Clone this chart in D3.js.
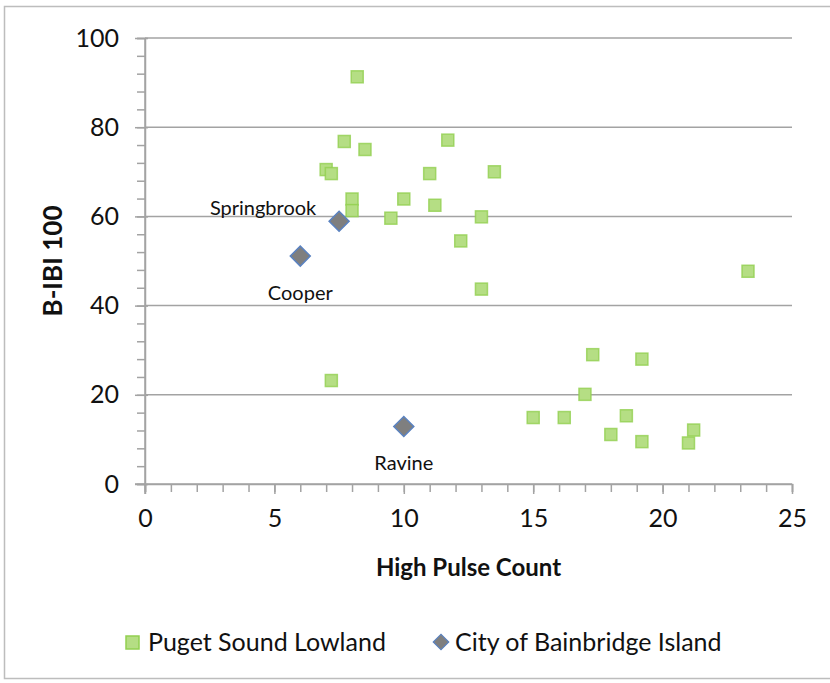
<!DOCTYPE html>
<html lang="en">
<head>
    <meta charset="UTF-8">
    <title>B-IBI vs High Pulse Count</title>
    <script src="https://d3js.org/d3.v7.min.js"></script>
    <style>
        body {
            margin: 0;
            background: #fff;
            font-family: Lato, 'Open Sans', sans-serif;
        }
        .tick-label { font-size: 25px; fill: #111; }
        .axis-title { font-size: 24px; font-weight: bold; fill: #111; }
        .y-title { font-size: 26px; }
        .site-label { font-size: 20px; fill: #111; }
        .legend-label { font-size: 25px; fill: #111; }
    </style>
</head>
<body>
    <div id="chart"></div>
    <script>
        // Puget Sound Lowland sites (high pulse count, B-IBI)
        const pugetX = [8.2, 7.7, 8.5, 11.7, 7.0, 7.2, 11.0, 13.5, 8.0, 8.0, 10.0, 11.2, 9.5, 13.0,
                        12.2, 13.0, 7.2, 23.3, 17.3, 19.2, 17.0, 15.0, 16.2, 18.6, 18.0, 19.2, 21.2, 21.0];
        const pugetY = [91.3, 76.8, 75.0, 77.1, 70.5, 69.6, 69.6, 70.0, 63.9, 61.3, 63.9, 62.5, 59.6, 59.9,
                        54.5, 43.7, 23.2, 47.7, 29.0, 28.0, 20.1, 14.9, 14.9, 15.3, 11.1, 9.5, 12.1, 9.2];

        // City of Bainbridge Island sites
        const cityNames = ["Springbrook", "Cooper", "Ravine"];
        const cityX = [7.5, 6.0, 10.0];
        const cityY = [58.9, 51.1, 12.9];

        const xTicks = [0, 5, 10, 15, 20, 25];
        const yTicks = [0, 20, 40, 60, 80, 100];
        const seriesNames = ["Puget Sound Lowland", "City of Bainbridge Island"];

        const W = 830, H = 683;
        const plot = { left: 145, right: 792, top: 38, bottom: 484 };

        const svg = d3.select("#chart").append("svg")
            .attr("width", W)
            .attr("height", H);

        // outer frame
        svg.append("rect")
            .attr("x", 4.5).attr("y", 6.5)
            .attr("width", 840).attr("height", 672)
            .attr("fill", "none")
            .attr("stroke", "#bdbdbd")
            .attr("stroke-width", 1.5);

        const x = d3.scaleLinear().domain([0, 25]).range([plot.left, plot.right]);
        const y = d3.scaleLinear().domain([0, 100]).range([plot.bottom, plot.top]);

        const axisColor = "#a3a3a3";

        // horizontal gridlines
        svg.append("g").selectAll("line")
            .data(yTicks.filter(d => d > 0))
            .join("line")
            .attr("x1", plot.left).attr("x2", plot.right)
            .attr("y1", d => y(d)).attr("y2", d => y(d))
            .attr("stroke", axisColor)
            .attr("stroke-width", 1.5);

        // y axis with minor ticks every 4
        const yAxisMinor = d3.axisLeft(y).tickValues(d3.range(0, 101, 4)).tickSize(8).tickFormat("");
        const gyMinor = svg.append("g").attr("transform", `translate(${plot.left},0)`).call(yAxisMinor);
        const yAxisMajor = d3.axisLeft(y).tickValues(yTicks).tickSize(10).tickPadding(16);
        const gy = svg.append("g").attr("transform", `translate(${plot.left},0)`).call(yAxisMajor);
        gy.selectAll(".tick line").attr("x2", -10).attr("x1", 3);
        gy.select(".domain").attr("d", `M0,${plot.top}V${plot.bottom + 10}`);

        // x axis with minor ticks every 1
        const xAxisMinor = d3.axisBottom(x).tickValues(d3.range(0, 26, 1)).tickSize(8).tickFormat("");
        const gxMinor = svg.append("g").attr("transform", `translate(0,${plot.bottom})`).call(xAxisMinor);
        const xAxisMajor = d3.axisBottom(x).tickValues(xTicks).tickSize(10).tickPadding(16);
        const gx = svg.append("g").attr("transform", `translate(0,${plot.bottom})`).call(xAxisMajor);
        gx.select(".domain").attr("d", `M${plot.left - 10},0H${plot.right}`);

        [gyMinor, gy, gxMinor, gx].forEach(g => {
            g.selectAll("line, path").attr("stroke", axisColor).attr("stroke-width", 1.5);
            g.selectAll("text").attr("class", "tick-label").attr("fill", "#111");
            g.attr("font-family", null).attr("font-size", null);
        });
        gx.selectAll("text").attr("dy", "0.68em");

        // axis titles
        svg.append("text")
            .attr("class", "axis-title")
            .attr("text-anchor", "middle")
            .attr("x", (plot.left + plot.right) / 2)
            .attr("y", 576)
            .text("High Pulse Count");

        svg.append("text")
            .attr("class", "axis-title y-title")
            .attr("text-anchor", "middle")
            .attr("transform", `translate(62,${(plot.top + plot.bottom) / 2}) rotate(-90)`)
            .text("B-IBI 100");

        // Puget Sound Lowland squares
        const sq = 12;
        svg.append("g").selectAll("rect")
            .data(pugetX.map((d, i) => [d, pugetY[i]]))
            .join("rect")
            .attr("x", d => x(d[0]) - sq / 2)
            .attr("y", d => y(d[1]) - sq / 2)
            .attr("width", sq).attr("height", sq)
            .attr("fill", "#b5de84")
            .attr("stroke", "#92d050")
            .attr("stroke-opacity", 0.8)
            .attr("stroke-width", 1.5);

        // City of Bainbridge Island diamonds
        const diamond = d3.symbol().type(d3.symbolSquare).size(200);
        svg.append("g").selectAll("path")
            .data(cityX.map((d, i) => [d, cityY[i]]))
            .join("path")
            .attr("d", diamond)
            .attr("transform", d => `translate(${x(d[0])},${y(d[1])}) rotate(45)`)
            .attr("fill", "#7f7f7f")
            .attr("stroke", "#5a82c0")
            .attr("stroke-width", 1.5);

        // site labels
        const labelOffsets = [[-76, -6], [0, 44], [0, 44]];
        svg.append("g").selectAll("text")
            .data(cityNames)
            .join("text")
            .attr("class", "site-label")
            .attr("text-anchor", "middle")
            .attr("x", (d, i) => x(cityX[i]) + labelOffsets[i][0])
            .attr("y", (d, i) => y(cityY[i]) + labelOffsets[i][1])
            .text(d => d);

        // legend
        const legend = svg.append("g");
        legend.append("rect")
            .attr("x", 126).attr("y", 636)
            .attr("width", 13).attr("height", 13)
            .attr("fill", "#b5de84")
            .attr("stroke", "#92d050")
            .attr("stroke-width", 1.5);
        legend.append("text")
            .attr("class", "legend-label")
            .attr("x", 148).attr("y", 651)
            .text(seriesNames[0]);
        legend.append("path")
            .attr("d", d3.symbol().type(d3.symbolSquare).size(120))
            .attr("transform", "translate(441,642) rotate(45)")
            .attr("fill", "#7f7f7f")
            .attr("stroke", "#5a82c0")
            .attr("stroke-width", 1.2);
        legend.append("text")
            .attr("class", "legend-label")
            .attr("x", 455).attr("y", 651)
            .text(seriesNames[1]);
    </script>
</body>
</html>
